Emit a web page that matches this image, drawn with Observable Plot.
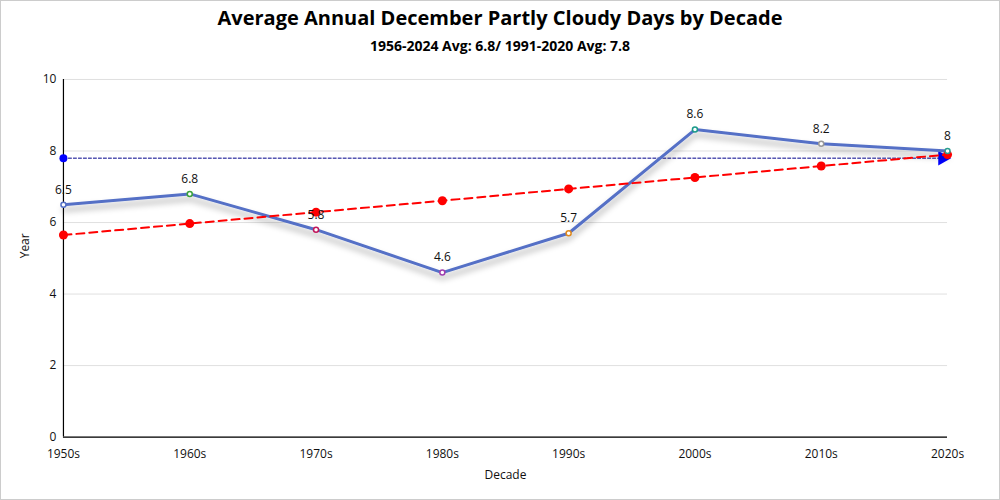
<!DOCTYPE html>
<html><head><meta charset="utf-8">
<script src="https://cdn.jsdelivr.net/npm/d3@7"></script>
<script src="https://cdn.jsdelivr.net/npm/@observablehq/plot@0.6"></script>
<style>
html,body{margin:0;padding:0;background:#fff;}
#wrap{position:relative;width:1000px;height:500px;box-sizing:border-box;border:1px solid #ccc;font-family:"Open Sans","Noto Sans",sans-serif;overflow:hidden;}
#title{position:absolute;top:3px;left:0;width:100%;text-align:center;font-size:20px;font-weight:700;color:#000;}
#subtitle{position:absolute;top:35px;left:0;width:100%;text-align:center;font-size:14px;font-weight:700;color:#000;}
#chart{position:absolute;top:59px;left:-1px;}
</style></head>
<body><div id="wrap"><div id="title">Average Annual December Partly Cloudy Days by Decade</div><div id="subtitle">1956-2024 Avg: 6.8/ 1991-2020 Avg: 7.8</div><div id="chart"></div></div>
<script>
const decades = [1950, 1960, 1970, 1980, 1990, 2000, 2010, 2020];
const values = [6.5, 6.8, 5.8, 4.6, 5.7, 8.6, 8.2, 8.0];
const pointColors = ["#5470c6", "#3ba23b", "#c2185b", "#a040b0", "#e08a1e", "#1a9a8a", "#999999", "#2a9d8f"];
const trendValues = [5.65, 5.97, 6.29, 6.61, 6.94, 7.26, 7.58, 7.9];
const normalAvg = 7.8;
const yTicks = [0, 2, 4, 6, 8, 10];
const mainColor = "#5470c6";

const data = decades.map((d, i) => ({decade: d, value: values[i], color: pointColors[i], trend: trendValues[i]}));
const avgLine = [{decade: decades[0], value: normalAvg}, {decade: decades[decades.length - 1], value: normalAvg}];

const chart = Plot.plot({
  width: 1000, height: 441,
  marginTop: 19, marginBottom: 64, marginLeft: 63, marginRight: 52,
  style: {fontFamily: '"Open Sans","Noto Sans",sans-serif', fontSize: "12px", color: "#111", background: "transparent"},
  x: {type: "linear", domain: [1950, 2020], ticks: decades, tickFormat: d => d + "s", tickSize: 0, tickPadding: 9, label: null},
  y: {domain: [0, 10], ticks: yTicks, tickSize: 0, tickPadding: 7, label: null},
  marks: [
    Plot.gridY(yTicks, {stroke: "#e0e0e0", strokeOpacity: 1}),
    Plot.axisX({ticks: decades, tickFormat: d => d + "s", tickSize: 0, tickPadding: 12, fontSize: 12, label: null}),
    Plot.axisY({ticks: yTicks, tickSize: 0, tickPadding: 7, fontSize: 12, label: null}),
    Plot.ruleY([0], {stroke: "#000", strokeWidth: 1.2}),
    Plot.ruleX([1950], {stroke: "#000", strokeWidth: 1.2}),
    Plot.text(["Year"], {frameAnchor: "left", dx: -38, rotate: -90, fontSize: 12, fill: "#111"}),
    Plot.text(["Decade"], {frameAnchor: "bottom", dy: 42, fontSize: 12, fill: "#111"}),
    Plot.line(avgLine, {x: "decade", y: "value", stroke: "#00008b", strokeWidth: 1, strokeDasharray: "3 2"}),
    Plot.dot([avgLine[0]], {x: "decade", y: "value", r: 4, fill: "blue"}),
    Plot.dot([avgLine[1]], {x: "decade", y: "value", symbol: "triangle", rotate: 90, r: 5.5, fill: "blue", dx: -5}),
    Plot.line(data, {x: "decade", y: "value", stroke: mainColor, strokeWidth: 3}),
    Plot.line(data, {x: "decade", y: "trend", stroke: "red", strokeWidth: 2, strokeDasharray: "8 5"}),
    Plot.dot(data, {x: "decade", y: "trend", r: 4.5, fill: "red"}),
    Plot.dot(data, {x: "decade", y: "value", r: 2.5, fill: "#fff", stroke: "color", strokeWidth: 1.5}),
    Plot.text(data, {x: "decade", y: "value", text: d => String(d.value), dy: -15, fontSize: 12, fill: "#111"})
  ]
});
document.getElementById("chart").appendChild(chart);
const svg = d3.select(chart);
const defs = svg.insert("defs", ":first-child");
const f = defs.append("filter").attr("id", "lineShadow").attr("x", "-10%").attr("y", "-20%").attr("width", "120%").attr("height", "160%");
f.append("feDropShadow").attr("dx", 0).attr("dy", 5).attr("stdDeviation", 3).attr("flood-color", "#000").attr("flood-opacity", 0.35);
svg.selectAll("g").filter(function() { return this.getAttribute("stroke") === mainColor && this.getAttribute("fill") === "none"; }).attr("filter", "url(#lineShadow)");
</script></body></html>
